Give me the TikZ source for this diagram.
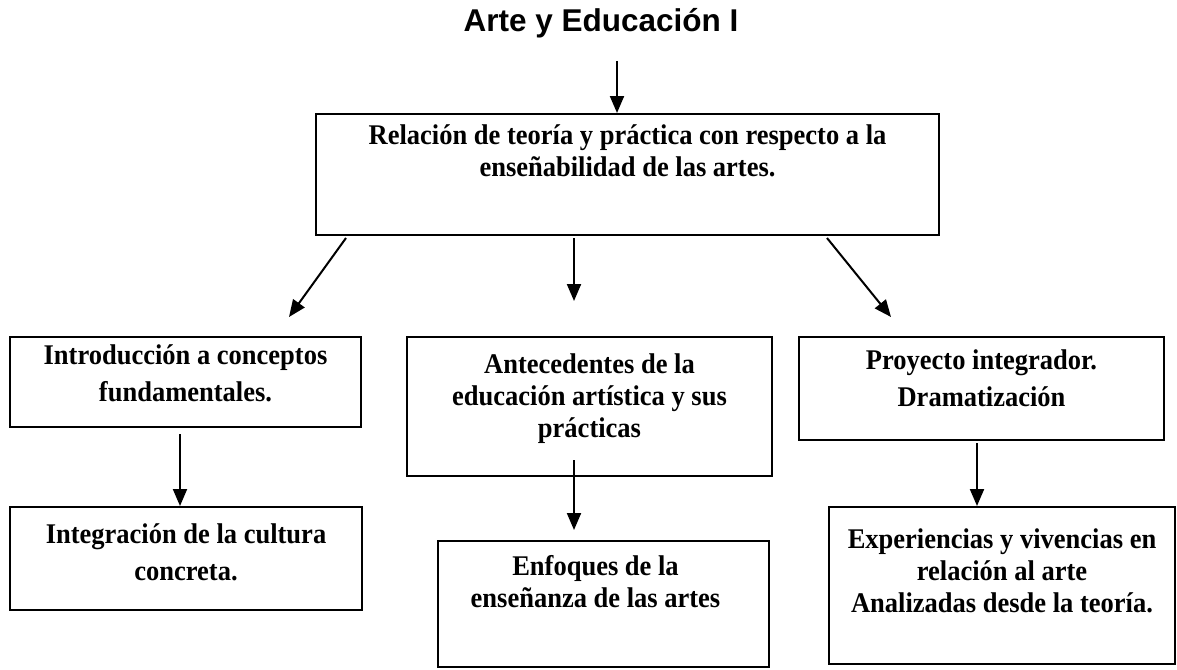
\documentclass[tikz,border=0pt]{standalone}
\usepackage{fontspec}
\setmainfont{Liberation Serif}[FakeStretch=0.93]
\newfontfamily\titlefont{Liberation Sans}
\usetikzlibrary{positioning,arrows.meta}

\begin{document}
\begin{tikzpicture}[->,>={Triangle[length=17pt,width=14pt]},line width=2pt,x=1pt,y=-1pt,
      box/.style={draw,rectangle,inner sep=0pt},
      txt/.style={align=center,inner sep=0pt,font=\fontsize{28.5}{32}\selectfont\bfseries}]
      \useasboundingbox (0,0) rectangle (1177,669);

      \node[inner sep=0pt,font=\titlefont\fontsize{31.5}{34}\selectfont\bfseries] (title) at (601,23) {Arte y Educación I};

      % boxes
      \node[box,minimum width=623pt,minimum height=121pt] (rel) at (627.5,174.5) {};
      \node[box,minimum width=351pt,minimum height=90pt] (intro) at (185.5,382) {};
      \node[box,minimum width=365pt,minimum height=139pt] (antec) at (589.5,406.5) {};
      \node[box,minimum width=365pt,minimum height=103pt] (proy) at (981.5,388.5) {};
      \node[box,minimum width=352pt,minimum height=103pt] (integ) at (186,558.5) {};
      \node[box,minimum width=331pt,minimum height=126pt] (enfoq) at (603.5,604) {};
      \node[box,minimum width=346pt,minimum height=157pt] (exper) at (1002,585.5) {};

      % texts
      \node[txt,below=11pt of rel.north] (reltxt) {Relación de teoría y práctica con respecto a la\\enseñabilidad de las artes.};
      \node[txt,below=8pt of intro.north] (introtxt) {Introducción a conceptos\\[5pt]fundamentales.};
      \node[txt,below=17pt of antec.north] (antectxt) {Antecedentes de la\\educación artística y sus\\prácticas};
      \node[txt,below=13pt of proy.north] (proytxt) {Proyecto integrador.\\[5pt]Dramatización};
      \node[txt,below=17pt of integ.north] (integtxt) {Integración de la cultura\\[5pt]concreta.};
      \node[txt,below=14pt of enfoq.north,xshift=-8pt] (enfoqtxt) {Enfoques de la\\enseñanza de las artes};
      \node[txt,below=22pt of exper.north] (expertxt) {Experiencias y vivencias en\\relación al arte\\Analizadas desde la teoría.};

      % arrows
      \draw ([xshift=16pt,yshift=-22pt]title.south) -- ([xshift=-10.5pt]rel.north);
      \draw ([xshift=-281.5pt,yshift=-2pt]rel.south) -- ([xshift=103.5pt,yshift=19pt]intro.north);
      \draw ([xshift=-53.5pt,yshift=-2pt]rel.south) -- ([xshift=-15.5pt,yshift=35pt]antec.north);
      \draw ([xshift=199.5pt,yshift=-2pt]rel.south) -- ([xshift=-90.5pt,yshift=19pt]proy.north);
      \draw ([xshift=-5.5pt,yshift=-6pt]intro.south) -- ([xshift=-6pt]integ.north);
      \draw ([xshift=-15.5pt,yshift=17pt]antec.south) -- ([xshift=-29.5pt,yshift=10pt]enfoq.north);
      \draw ([xshift=-4.5pt,yshift=-2pt]proy.south) -- ([xshift=-25pt]exper.north);
\end{tikzpicture}
\end{document}
